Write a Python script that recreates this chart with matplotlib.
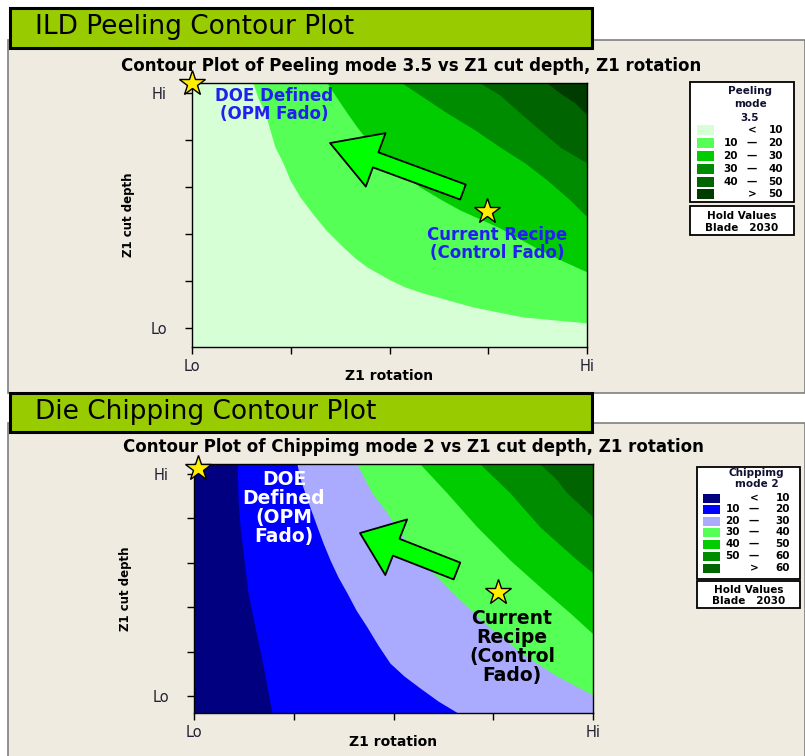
import matplotlib
matplotlib.use("Agg")
import matplotlib.pyplot as plt
from matplotlib.patches import Rectangle

plt.rcParams["font.family"] = ["DejaVu Sans"]

W, H = 805, 756

# ---- Peeling mode 3.5: contour boundaries in coded units (Lo=-1, Hi=1) ----
peel_b10_x = [-0.691, -0.666, -0.630, -0.605, -0.580, -0.539, -0.504, -0.453, -0.392,
              -0.322, -0.235, -0.175, -0.114, 0.003, 0.078, 0.170, 0.296, 0.423,
              0.549, 0.676, 0.838, 1.0]
peel_b10_y = [1.085, 0.957, 0.830, 0.685, 0.540, 0.404, 0.260, 0.115, -0.021,
              -0.166, -0.311, -0.404, -0.481, -0.591, -0.651, -0.702, -0.762, -0.821,
              -0.864, -0.906, -0.932, -0.957]
peel_b20_x = [-0.316, -0.266, -0.215, -0.165, -0.114, -0.058, 0.003, 0.078, 0.154,
              0.256, 0.357, 0.458, 0.559, 0.661, 0.762, 0.878, 1.0]
peel_b20_y = [1.085, 0.957, 0.830, 0.711, 0.600, 0.489, 0.396, 0.294, 0.200,
              0.098, 0.004, -0.072, -0.149, -0.243, -0.336, -0.430, -0.523]
peel_b30_x = [0.063, 0.154, 0.291, 0.433, 0.559, 0.686, 0.797, 0.914, 1.0]
peel_b30_y = [1.085, 0.983, 0.830, 0.685, 0.540, 0.404, 0.260, 0.089, -0.055]
peel_b40_x = [0.458, 0.559, 0.661, 0.762, 0.863, 1.0]
peel_b40_y = [1.085, 0.983, 0.830, 0.685, 0.540, 0.404]
peel_b50_x = [0.797, 0.863, 0.939, 1.0]
peel_b50_y = [1.085, 1.0, 0.915, 0.813]
peel_colors = ["#d6ffd6", "#55ff55", "#00cc00", "#008c00", "#006400", "#003c00"]
peel_legend = [("", "<", "10"), ("10", "—", "20"), ("20", "—", "30"),
               ("30", "—", "40"), ("40", "—", "50"), ("", ">", "50")]

# ---- Chipping mode 2 ----
chip_b10_x = [-0.784, -0.779, -0.769, -0.749, -0.729, -0.694, -0.659, -0.609]
chip_b10_y = [1.09, 0.766, 0.523, 0.225, -0.072, -0.378, -0.676, -1.153]
chip_b20_x = [-0.484, -0.469, -0.444, -0.414, -0.383, -0.353, -0.318, -0.278, -0.233,
              -0.188, -0.133, -0.078, -0.018, 0.053, 0.133, 0.223, 0.323]
chip_b20_y = [1.09, 0.964, 0.829, 0.676, 0.523, 0.378, 0.225, 0.072, -0.072,
              -0.225, -0.378, -0.541, -0.703, -0.820, -0.928, -1.045, -1.153]
chip_b30_x = [-0.183, -0.108, -0.043, 0.058, 0.183, 0.333, 0.484, 0.634, 0.810, 1.0]
chip_b30_y = [1.09, 0.829, 0.676, 0.405, 0.135, -0.135, -0.387, -0.604, -0.811, -0.991]
chip_b40_x = [0.133, 0.268, 0.419, 0.584, 0.769, 0.885, 1.0]
chip_b40_y = [1.09, 0.829, 0.523, 0.225, -0.072, -0.252, -0.441]
chip_b50_x = [0.434, 0.584, 0.734, 0.920, 1.0]
chip_b50_y = [1.09, 0.829, 0.523, 0.225, 0.108]
chip_b60_x = [0.734, 0.810, 0.870, 0.935, 1.0]
chip_b60_y = [1.09, 0.964, 0.829, 0.721, 0.613]
chip_colors = ["#000080", "#0000ff", "#aaaaff", "#55ff55", "#00cc00", "#008c00", "#006400"]
chip_legend = [("", "<", "10"), ("10", "—", "20"), ("20", "—", "30"), ("30", "—", "40"),
               ("40", "—", "50"), ("50", "—", "60"), ("", ">", "60")]

# stars (DOE defined, current recipe) and arrows (tail -> tip)
peel_stars_x = [-1.0, 0.494]
peel_stars_y = [1.085, -0.004]
chip_stars_x = [-0.98, 0.524]
chip_stars_y = [1.05, -0.063]
peel_arrow = [(0.372, 0.157), (-0.301, 0.574)]
chip_arrow = [(0.318, 0.126), (-0.168, 0.468)]

x_ticks = [-1, -0.5, 0, 0.5, 1]
x_labels = ["Lo", "", "", "", "Hi"]
y_ticks = [-1, -0.6, -0.2, 0.2, 0.6, 1]
y_labels = ["Lo", "", "", "", "", "Hi"]

BEIGE = "#efebe1"
BANNER = "#99cc00"

fig = plt.figure(figsize=(W / 100, H / 100), dpi=100, facecolor="white")

# background layer in pixel coordinates
bg = fig.add_axes([0, 0, 1, 1])
bg.set_xlim(0, W)
bg.set_ylim(H, 0)
bg.axis("off")


def px(x, y, w, h, **kw):
    bg.add_patch(Rectangle((x, y), w, h, **kw))


px(8, 40, W - 8, 353, facecolor=BEIGE, edgecolor="#808080", lw=1.2)
px(8, 423, W - 8, 340, facecolor=BEIGE, edgecolor="#808080", lw=1.2)
px(10, 8, 582, 40, facecolor=BANNER, edgecolor="black", lw=2.2)
px(10, 393, 582, 39, facecolor=BANNER, edgecolor="black", lw=2.2)
bg.text(35, 27, "ILD Peeling Contour Plot", fontsize=19, va="center", ha="left")
bg.text(35, 412, "Die Chipping Contour Plot", fontsize=19, va="center", ha="left")
bg.text(411, 66, "Contour Plot of Peeling mode 3.5 vs Z1 cut depth, Z1 rotation",
        fontsize=12, fontweight="bold", ha="center", va="center")
bg.text(413, 447, "Contour Plot of Chippimg mode 2 vs Z1 cut depth, Z1 rotation",
        fontsize=12, fontweight="bold", ha="center", va="center")


def draw_legend(x0, y0, w, h, title_lines, title_y, rows_y, colors, entries,
                sw_x, sw_h, lo_r, sep_c, hi_r, hold_y0, hold_h):
    px(x0, y0, w, h, facecolor="white", edgecolor="black", lw=1.3)
    for t, ty in zip(title_lines, title_y):
        bg.text(x0 + w / 2 + 8, ty, t, fontsize=7.5, fontweight="bold",
                ha="center", va="center", color="#111133")
    for c, ry, (lo, sep, hi) in zip(colors, rows_y, entries):
        px(sw_x, ry - sw_h / 2, 17, sw_h, facecolor=c, edgecolor="none")
        bg.text(lo_r, ry, lo, fontsize=7.5, fontweight="bold", ha="right", va="center")
        bg.text(sep_c, ry, sep, fontsize=7.5, fontweight="bold", ha="center", va="center")
        bg.text(hi_r, ry, hi, fontsize=7.5, fontweight="bold", ha="right", va="center")
    px(x0, hold_y0, w, hold_h, facecolor="white", edgecolor="black", lw=1.3)
    bg.text(x0 + w / 2, hold_y0 + hold_h * 0.33, "Hold Values", fontsize=7.5,
            fontweight="bold", ha="center", va="center")
    bg.text(x0 + w / 2, hold_y0 + hold_h * 0.75, "Blade   2030", fontsize=7.5,
            fontweight="bold", ha="center", va="center")


draw_legend(690, 82, 104, 120, ["Peeling", "mode", "3.5"], [91, 104, 118],
            [130, 143, 156, 169, 182, 194], peel_colors, peel_legend,
            697, 10, 738, 752, 783, 206, 29)
draw_legend(697, 467, 103, 112, ["Chippimg", "mode 2"], [473, 484],
            [498, 509, 521, 532, 544, 556, 568], chip_colors, chip_legend,
            703, 9, 740, 754, 790, 581, 27)


def contour_axes(rect, ylim, colors, curves, stars_x, stars_y, arrow,
                 arrow_style, ylab_x, xlab_y):
    ax = fig.add_axes(rect)
    ax.set_xlim(-1, 1)
    ax.set_ylim(*ylim)
    ax.set_facecolor(colors[0])
    for c, (cx, cy) in zip(colors[1:], curves):
        ax.fill_betweenx(cy, cx, 1.0, color=c, lw=0)
    ax.set_xticks(x_ticks)
    ax.set_xticklabels(x_labels)
    ax.set_yticks(y_ticks)
    ax.set_yticklabels(y_labels)
    ax.tick_params(direction="out", length=5, width=1, labelsize=10.5,
                   labelcolor="#222233")
    ax.tick_params(axis="y", pad=13)
    for s in ax.spines.values():
        s.set_linewidth(1.0)
    ax.set_xlabel("Z1 rotation", fontsize=10, fontweight="bold")
    ax.xaxis.set_label_coords(0.5, xlab_y)
    ax.set_ylabel("Z1 cut depth", fontsize=8.5, fontweight="bold")
    ax.yaxis.set_label_coords(ylab_x, 0.5)
    ax.annotate("", xy=arrow[1], xytext=arrow[0],
                arrowprops=dict(arrowstyle=arrow_style, fc="#00ff00", ec="black",
                                lw=1.3, shrinkA=0, shrinkB=0, mutation_scale=10))
    ax.plot(stars_x, stars_y, ls="none", marker="*", ms=19, mfc="#ffee00",
            mec="black", mew=1.0, clip_on=False, zorder=5)
    return ax


ax1 = contour_axes([192 / W, (H - 347) / H, 395 / W, 264 / H], (-1.162, 1.085),
                   peel_colors,
                   [(peel_b10_x, peel_b10_y), (peel_b20_x, peel_b20_y),
                    (peel_b30_x, peel_b30_y), (peel_b40_x, peel_b40_y),
                    (peel_b50_x, peel_b50_y)],
                   peel_stars_x, peel_stars_y, peel_arrow,
                   "simple,head_length=3.5,head_width=4.1,tail_width=1.15", -0.145, -0.085)
ax1.text(-0.585, 0.898, "DOE Defined\n(OPM Fado)", color="#2020f0", fontsize=12,
         fontweight="bold", ha="center", va="center", linespacing=1.0)
ax1.text(0.544, -0.285, "Current Recipe\n(Control Fado)", color="#2020f0", fontsize=12,
         fontweight="bold", ha="center", va="center", linespacing=1.0)

ax2 = contour_axes([194 / W, (H - 713) / H, 399 / W, 249 / H], (-1.153, 1.09),
                   chip_colors,
                   [(chip_b10_x, chip_b10_y), (chip_b20_x, chip_b20_y),
                    (chip_b30_x, chip_b30_y), (chip_b40_x, chip_b40_y),
                    (chip_b50_x, chip_b50_y), (chip_b60_x, chip_b60_y)],
                   chip_stars_x, chip_stars_y, chip_arrow,
                   "simple,head_length=2.8,head_width=4.3,tail_width=1.3", -0.155, -0.09)
ax2.text(-0.549, 0.694, "DOE\nDefined\n(OPM\nFado)", color="white", fontsize=13.5,
         fontweight="bold", ha="center", va="center", linespacing=1.0)
ax2.text(0.594, -0.559, "Current\nRecipe\n(Control\nFado)", color="black", fontsize=13.5,
         fontweight="bold", ha="center", va="center", linespacing=1.0)

fig.savefig("out.png", dpi=100, facecolor=fig.get_facecolor())
